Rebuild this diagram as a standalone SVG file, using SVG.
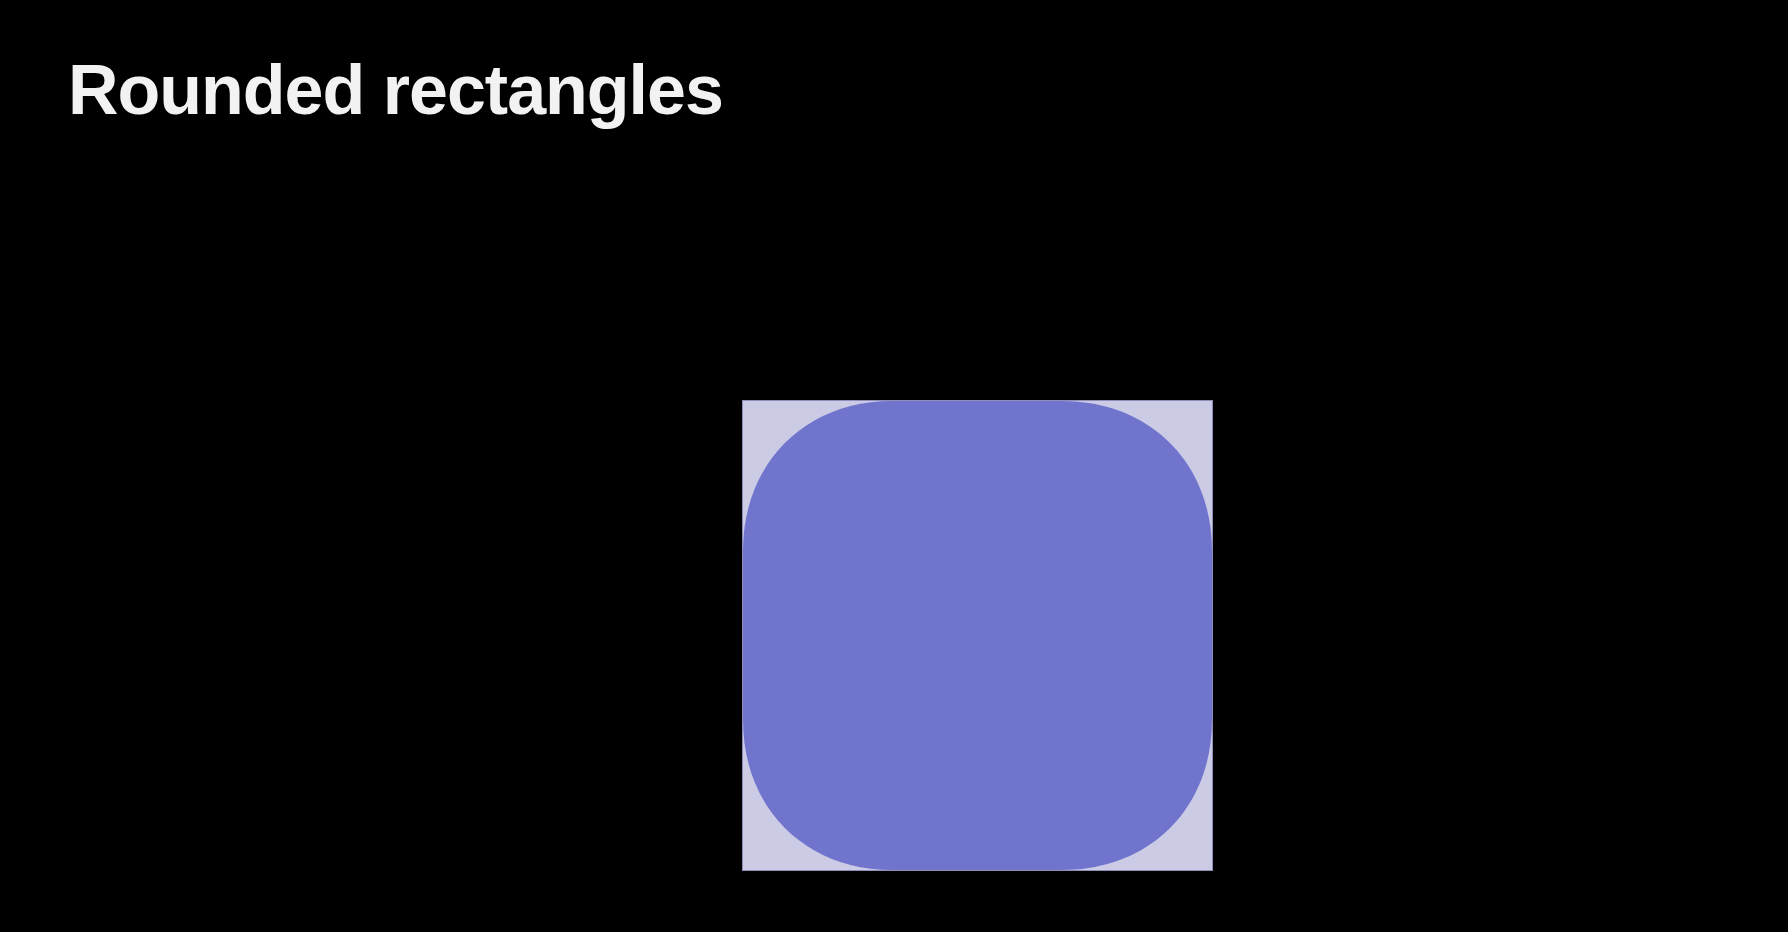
<svg xmlns="http://www.w3.org/2000/svg" width="1788" height="932" viewBox="0 0 1788 932">
  <style>
    .title { font-family: "Liberation Sans", Arial, sans-serif; font-weight: bold; font-size: 70px; fill: #f2f2f2; letter-spacing: -1px; }
    .frame { fill: #cbcbe6; stroke: #8e8eb8; stroke-width: 1; }
    .shape { fill: #7074cc; }
  </style>
  <rect x="0" y="0" width="1788" height="932" fill="#000000"/>
  <g id="title">
    <text class="title" x="68" y="114">Rounded rectangles</text>
  </g>
  <g id="frame-square">
    <rect class="frame" x="742.5" y="400.5" width="470" height="470"/>
  </g>
  <g id="rounded-rectangle">
    <path class="shape" d="M 892 401 L 1062 401 C 1150 401 1212 463 1212 551 L 1212 720 C 1212 808 1150 870 1062 870 L 892 870 C 805 870 743 808 743 720 L 743 551 C 743 463 805 401 892 401 Z"/>
  </g>
  <g id="connectors"></g>
</svg>
